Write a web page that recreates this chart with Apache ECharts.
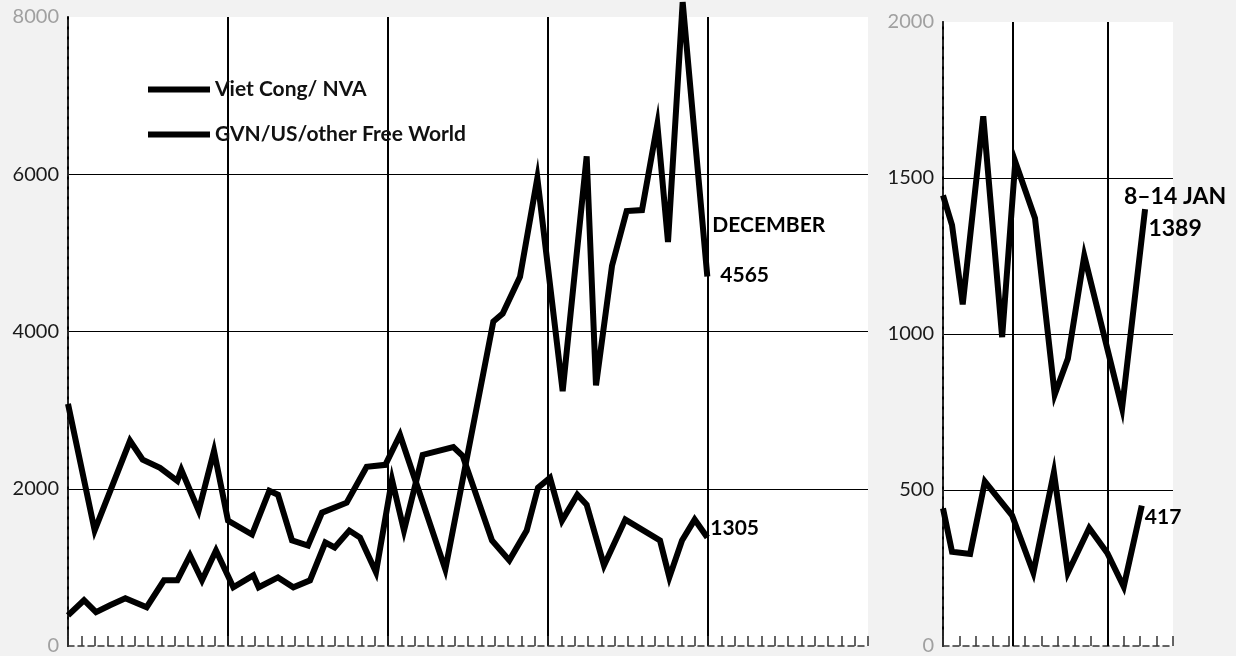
<!DOCTYPE html>
<html><head><meta charset="utf-8">
<script src="https://cdn.jsdelivr.net/npm/echarts@6/dist/echarts.min.js"></script>
<style>html,body{margin:0;padding:0;background:#fff}#c{width:1236px;height:656px}</style>
</head><body><div id="c"></div>
<script>
// ---- data ----
const seriesNames = ['Viet Cong/ NVA', 'GVN/US/other Free World'];

// left panel: x in period units (12 per segment), y = killed
const vcLeftX = [0, 2.0, 4.65, 5.6, 6.9, 8.2, 8.5, 9.8, 10.95, 12.0, 13.8, 15.1, 15.75, 16.8, 18.0, 19.05, 20.9, 22.4, 23.8, 24.9, 28.3, 31.9, 32.6, 33.9, 35.2, 37.1, 38.9, 39.6, 40.8, 41.9, 43.05, 44.2, 45.0, 46.1, 47.95];
const vcLeftY = [3080, 1470, 2610, 2370, 2265, 2100, 2240, 1720, 2480, 1595, 1418, 1975, 1924, 1342, 1278, 1696, 1823, 2278, 2304, 2684, 975, 4127, 4228, 4696, 5950, 3241, 6228, 3316, 4835, 5532, 5544, 6633, 5139, 8190, 4700];
const gvnLeftX = [0, 1.2, 2.1, 3.15, 4.3, 5.9, 7.2, 8.2, 9.15, 10.05, 11.1, 12.4, 13.9, 14.3, 15.75, 16.9, 18.15, 19.3, 20.0, 21.1, 21.9, 23.1, 24.3, 25.2, 26.6, 28.9, 29.6, 31.8, 33.1, 34.4, 35.25, 36.15, 37.05, 38.2, 38.9, 40.2, 41.8, 44.4, 45.1, 46.05, 47.0, 47.95];
const gvnLeftY = [390, 582, 430, 519, 608, 494, 835, 835, 1152, 835, 1215, 747, 899, 747, 873, 747, 835, 1316, 1253, 1468, 1380, 937, 2114, 1468, 2430, 2531, 2418, 1342, 1089, 1468, 2013, 2139, 1595, 1924, 1797, 1025, 1608, 1342, 873, 1342, 1608, 1380];

// right panel: x in weeks, y = killed per week
const vcRightX = [0, 0.55, 1.2, 2.45, 3.6, 4.4, 5.6, 6.8, 7.6, 8.6, 10.9, 12.3];
const vcRightY = [1444, 1349, 1095, 1698, 990, 1552, 1371, 806, 921, 1251, 762, 1400];
const gvnRightX = [0, 0.55, 1.65, 2.55, 4.2, 5.5, 6.75, 7.6, 8.9, 10.0, 11.0, 12.1];
const gvnRightY = [441, 302, 295, 527, 419, 235, 556, 235, 378, 298, 190, 450];
const rightBreaks = [4.26, 10];

// axis ranges / ticks
const leftYMax = 8000, leftYStep = 2000;
const rightYMax = 2000, rightYStep = 500;
const leftXMax = 60, leftXStep = 12;
const rightXMax = 14;

// annotation texts
const vcLeftNote = ['DECEMBER', '4565'];
const gvnLeftNote = '1305';
const vcRightNote = ['8–14 JAN', '1389'];
const gvnRightNote = '417';

// ---- build ----
const zip = (xs, ys) => xs.map((x, i) => [x, ys[i]]);
const FONT = 'Lato';
const lineStyle = {color: '#000', width: 6, join: 'miter', miterLimit: 8};
const fadedLabel = (maxV) => (v) => (Number(v) === 0 || Number(v) === maxV) ? '#a0a0a0' : '#1a1a1a';

function xAxisPair(grid, max, interval, minor) {
  return [
    {gridIndex: grid, type: 'value', min: 0, max: max, interval: interval,
     axisLine: {show: false},
     axisTick: {show: true, inside: true, length: 10, lineStyle: {color: '#333', width: 1.5}},
     minorTick: minor ? {show: true, splitNumber: minor, length: 10, lineStyle: {color: '#333', width: 1.5}} : {show: false},
     axisLabel: {show: false},
     splitLine: grid === 0 ? {show: true, lineStyle: {color: ['#000', '#000', '#000', '#000', '#000', 'rgba(0,0,0,0)'], width: 2}} : {show: false}},
    {gridIndex: grid, type: 'value', position: 'top', min: 0, max: max,
     axisLine: {show: true, lineStyle: {color: '#333', type: [6, 4], width: 1.5}},
     axisTick: {show: false}, axisLabel: {show: false}, splitLine: {show: false}}
  ];
}
function yAxisPair(grid, max, step) {
  return [
    {gridIndex: grid, type: 'value', min: 0, max: max, interval: step,
     axisLine: {show: true, lineStyle: {color: '#000', width: 2}},
     axisTick: {show: false},
     axisLabel: {fontFamily: FONT, fontSize: 20, margin: 9, color: fadedLabel(max), formatter: v => String(v)},
     splitLine: {show: true, lineStyle: {color: ['rgba(0,0,0,0)', '#000', '#000', '#000', 'rgba(0,0,0,0)'], width: 1}}},
    {gridIndex: grid, type: 'value', position: 'right', min: 0, max: max,
     axisLine: {show: true, lineStyle: {color: '#333', type: [6, 4], width: 1.5}},
     axisTick: {show: false}, axisLabel: {show: false}, splitLine: {show: false}}
  ];
}

const option = {
  animation: false,
  backgroundColor: '#f2f2f2',
  color: ['#000', '#000'],
  grid: [
    {left: 68, top: 17, width: 800, height: 632, show: true, backgroundColor: '#fff', borderWidth: 0},
    {left: 943, top: 22, width: 230, height: 630, show: true, backgroundColor: '#fff', borderWidth: 0}
  ],
  xAxis: [...xAxisPair(0, leftXMax, leftXStep, 12), ...xAxisPair(1, rightXMax, 1, 0)],
  yAxis: [...yAxisPair(0, leftYMax, leftYStep), ...yAxisPair(1, rightYMax, rightYStep)],
  legend: {
    data: seriesNames, left: 143, top: 74, orient: 'vertical', icon: 'rect',
    itemWidth: 62, itemHeight: 6, itemGap: 24, selectedMode: false,
    textStyle: {fontFamily: FONT, fontWeight: 'bold', fontSize: 21, color: '#111', padding: [12, 0, 0, 0]}
  },
  series: [
    {type: 'line', name: seriesNames[0], xAxisIndex: 0, yAxisIndex: 0, data: zip(vcLeftX, vcLeftY),
     symbol: 'none', clip: false, lineStyle: lineStyle, z: 5,
     endLabel: {show: true, distance: 5, offset: [0, -26], formatter: '{a|' + vcLeftNote[0] + '}\n{b|' + vcLeftNote[1] + '}',
       rich: {a: {fontFamily: FONT, fontWeight: 'bold', fontSize: 21, lineHeight: 50, color: '#000'},
              b: {fontFamily: FONT, fontWeight: 'bold', fontSize: 21, lineHeight: 50, color: '#000', padding: [0, 0, 0, 8]}}}},
    {type: 'line', name: seriesNames[1], xAxisIndex: 0, yAxisIndex: 0, data: zip(gvnLeftX, gvnLeftY),
     symbol: 'none', clip: false, lineStyle: lineStyle, z: 5,
     endLabel: {show: true, distance: 3, offset: [0, -9], formatter: gvnLeftNote,
       fontFamily: FONT, fontWeight: 'bold', fontSize: 21, color: '#000'}},
    {type: 'line', name: seriesNames[0], xAxisIndex: 2, yAxisIndex: 2, data: zip(vcRightX, vcRightY),
     symbol: 'none', clip: false, lineStyle: lineStyle, z: 5,
     endLabel: {show: true, distance: 5, offset: [25, 3], align: 'center', formatter: '{a|' + vcRightNote[0] + '}\n{a|' + vcRightNote[1] + '}',
       rich: {a: {fontFamily: FONT, fontWeight: 'bold', fontSize: 23, lineHeight: 32, color: '#000', align: 'center'}}},
     markLine: {silent: true, symbol: 'none', label: {show: false}, z: 1,
       lineStyle: {color: '#000', width: 2, type: 'solid'},
       data: rightBreaks.map(v => ({xAxis: v}))}},
    {type: 'line', name: seriesNames[1], xAxisIndex: 2, yAxisIndex: 2, data: zip(gvnRightX, gvnRightY),
     symbol: 'none', clip: false, lineStyle: lineStyle, z: 5,
     endLabel: {show: true, distance: 3, offset: [0, 12], formatter: gvnRightNote,
       fontFamily: FONT, fontWeight: 'bold', fontSize: 21, color: '#000'}}
  ]
};
const chart = echarts.init(document.getElementById('c'), null, {renderer: 'canvas'});
chart.setOption(option);
</script></body></html>
